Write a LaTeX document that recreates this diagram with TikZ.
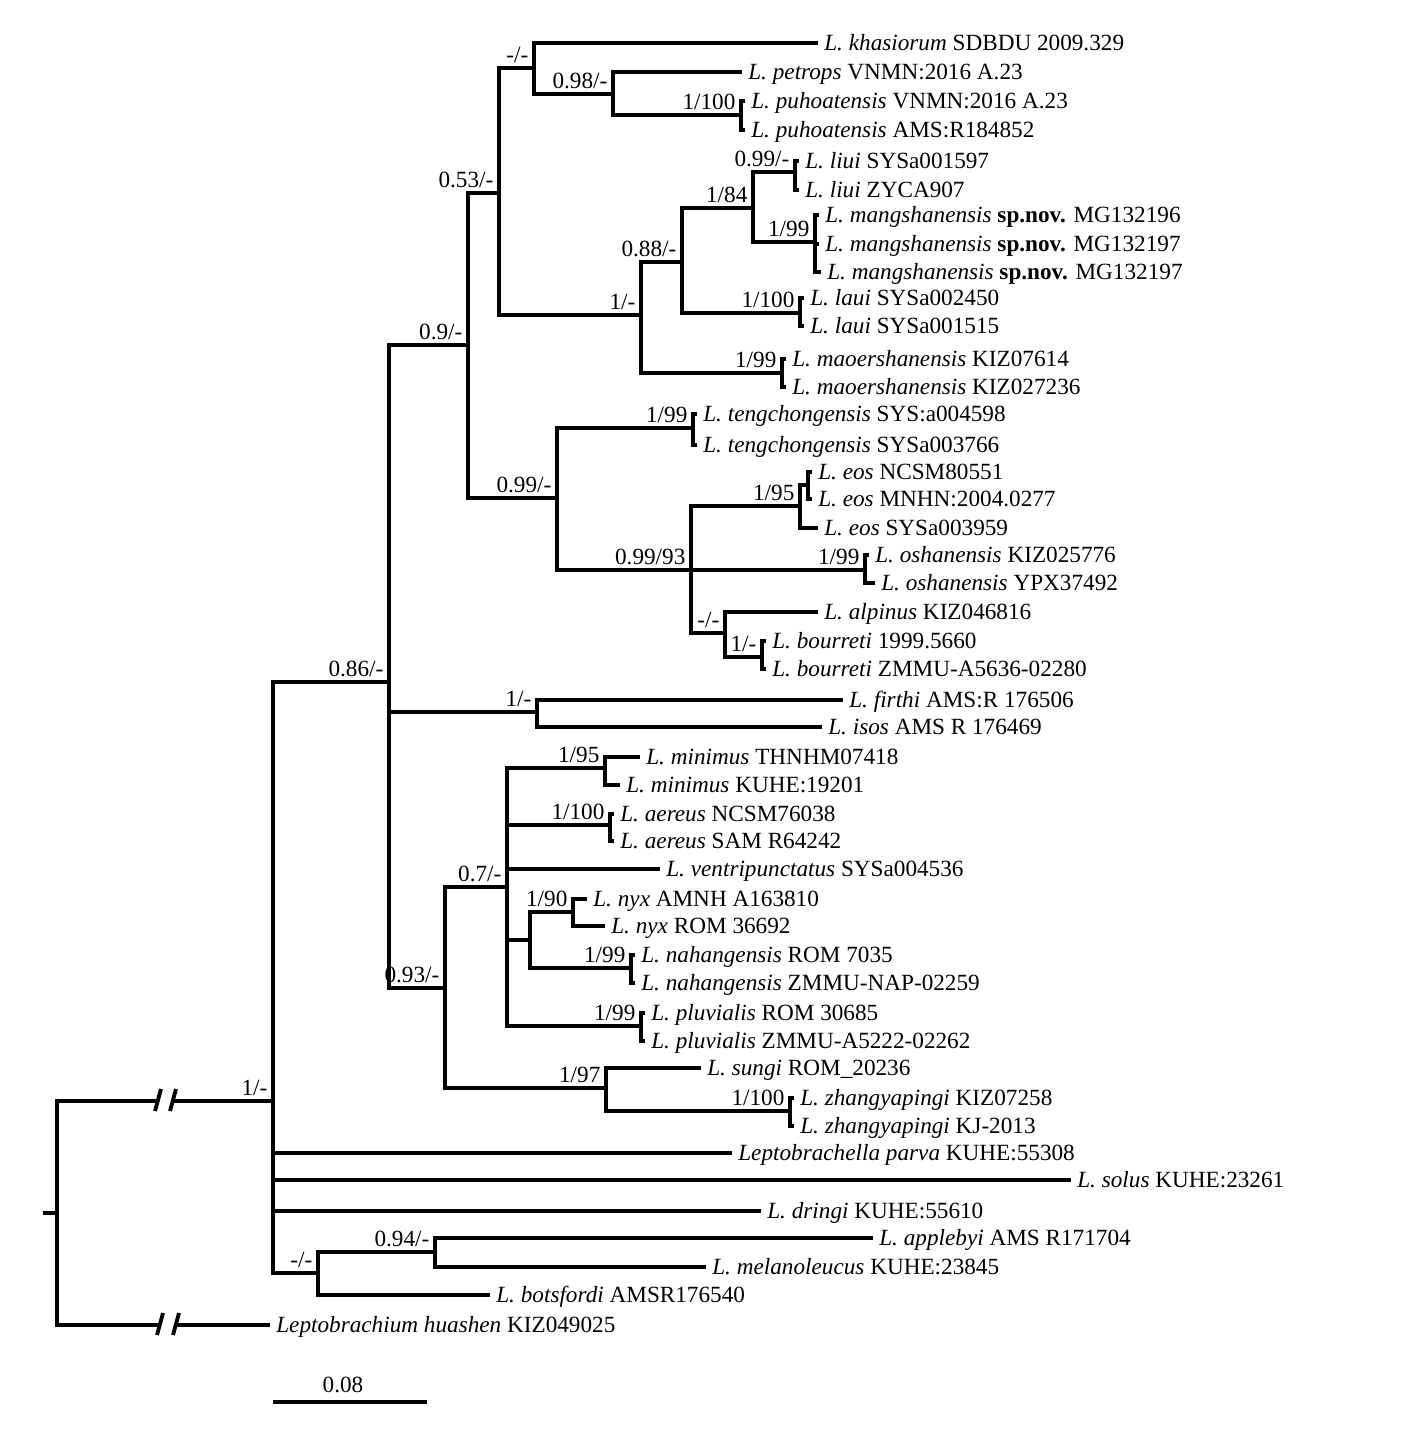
\documentclass[tikz,border=0pt]{standalone}
\usepackage{fontspec}
\setmainfont{Liberation Serif}

\begin{document}
\begin{tikzpicture}[x=0.01cm, y=-0.01cm,
    every node/.style={font=\fontsize{6.6}{7}\selectfont},
    leaf/.style={anchor=west, inner xsep=1.6pt, inner ysep=0pt,
                 text height=1.5mm, text depth=0pt},
    supp/.style={anchor=south east, inner xsep=1.4pt, inner ysep=1.3pt},
    branch/.style={line width=1.1pt},
  ]
  \useasboundingbox (0,0) rectangle (1417,1447);

  % internal nodes
  \coordinate (rt0) at (43,1213);
  \coordinate (rt)  at (57,1213);
  \coordinate (nA)  at (273,1101);
  \coordinate (n086) at (389,682);
  \coordinate (n09)  at (468,345);
  \coordinate (n053) at (499,193);
  \coordinate (nkh)  at (534,68);
  \coordinate (n098) at (613,94);
  \coordinate (npuh) at (741,115);
  \coordinate (n1b)  at (641,315);
  \coordinate (n088) at (682,262);
  \coordinate (n184) at (753,208);
  \coordinate (nliu) at (795,172);
  \coordinate (nman) at (815,242);
  \coordinate (nlau) at (800,313);
  \coordinate (nmao) at (782,373);
  \coordinate (n099) at (557,498);
  \coordinate (nten) at (693,428);
  \coordinate (n0993) at (691,570);
  \coordinate (n195) at (800,506);
  \coordinate (neos) at (808,485);
  \coordinate (nosh) at (865,570);
  \coordinate (nalp) at (725,633);
  \coordinate (nbou) at (762,657);
  \coordinate (nfir) at (537,712);
  \coordinate (n093) at (445,988);
  \coordinate (n07)  at (507,887);
  \coordinate (nmin) at (605,768);
  \coordinate (naer) at (610,825);
  \coordinate (nnn)  at (530,940);
  \coordinate (nnyx) at (573,912);
  \coordinate (nnah) at (631,968);
  \coordinate (nplu) at (641,1026);
  \coordinate (n197) at (606,1088);
  \coordinate (nzh)  at (790,1111);
  \coordinate (nB)   at (318,1273);
  \coordinate (n094) at (435,1252);

  % tips
  \node[leaf] (kha)  at (818,43)  {\textit{L. khasiorum} SDBDU 2009.329};
  \node[leaf] (pet)  at (742,72)  {\textit{L. petrops} VNMN:2016 A.23};
  \node[leaf] (puh1) at (745,101) {\textit{L. puhoatensis} VNMN:2016 A.23};
  \node[leaf] (puh2) at (745,130) {\textit{L. puhoatensis} AMS:R184852};
  \node[leaf] (liu1) at (799,161) {\textit{L. liui} SYSa001597};
  \node[leaf] (liu2) at (799,190) {\textit{L. liui} ZYCA907};
  \node[leaf] (man1) at (819,215) {\textit{L. mangshanensis} \textbf{sp.nov.} MG132196};
  \node[leaf] (man2) at (819,244) {\textit{L. mangshanensis} \textbf{sp.nov.} MG132197};
  \node[leaf] (man3) at (821,272) {\textit{L. mangshanensis} \textbf{sp.nov.} MG132197};
  \node[leaf] (lau1) at (804,298) {\textit{L. laui} SYSa002450};
  \node[leaf] (lau2) at (804,326) {\textit{L. laui} SYSa001515};
  \node[leaf] (mao1) at (786,359) {\textit{L. maoershanensis} KIZ07614};
  \node[leaf] (mao2) at (786,387) {\textit{L. maoershanensis} KIZ027236};
  \node[leaf] (ten1) at (697,414) {\textit{L. tengchongensis} SYS:a004598};
  \node[leaf] (ten2) at (697,445) {\textit{L. tengchongensis} SYSa003766};
  \node[leaf] (eos1) at (812,472) {\textit{L. eos} NCSM80551};
  \node[leaf] (eos2) at (812,499) {\textit{L. eos} MNHN:2004.0277};
  \node[leaf] (eos3) at (818,528) {\textit{L. eos} SYSa003959};
  \node[leaf] (osh1) at (869,555) {\textit{L. oshanensis} KIZ025776};
  \node[leaf] (osh2) at (875,583) {\textit{L. oshanensis} YPX37492};
  \node[leaf] (alp)  at (818,612) {\textit{L. alpinus} KIZ046816};
  \node[leaf] (bou1) at (766,641) {\textit{L. bourreti} 1999.5660};
  \node[leaf] (bou2) at (766,669) {\textit{L. bourreti} ZMMU-A5636-02280};
  \node[leaf] (fir)  at (843,700) {\textit{L. firthi} AMS:R 176506};
  \node[leaf] (iso)  at (822,727) {\textit{L. isos} AMS R 176469};
  \node[leaf] (min1) at (640,757) {\textit{L. minimus} THNHM07418};
  \node[leaf] (min2) at (620,785) {\textit{L. minimus} KUHE:19201};
  \node[leaf] (aer1) at (614,814) {\textit{L. aereus} NCSM76038};
  \node[leaf] (aer2) at (614,841) {\textit{L. aereus} SAM R64242};
  \node[leaf] (ven)  at (660,869) {\textit{L. ventripunctatus} SYSa004536};
  \node[leaf] (nyx1) at (587,899) {\textit{L. nyx} AMNH A163810};
  \node[leaf] (nyx2) at (605,926) {\textit{L. nyx} ROM 36692};
  \node[leaf] (nah1) at (635,955) {\textit{L. nahangensis} ROM 7035};
  \node[leaf] (nah2) at (635,983) {\textit{L. nahangensis} ZMMU-NAP-02259};
  \node[leaf] (plu1) at (645,1013) {\textit{L. pluvialis} ROM 30685};
  \node[leaf] (plu2) at (645,1041) {\textit{L. pluvialis} ZMMU-A5222-02262};
  \node[leaf] (sun)  at (701,1068) {\textit{L. sungi} ROM\_20236};
  \node[leaf] (zh1)  at (794,1098) {\textit{L. zhangyapingi} KIZ07258};
  \node[leaf] (zh2)  at (794,1126) {\textit{L. zhangyapingi} KJ-2013};
  \node[leaf] (parva) at (732,1153) {\textit{Leptobrachella parva} KUHE:55308};
  \node[leaf] (sol)  at (1071,1180) {\textit{L. solus} KUHE:23261};
  \node[leaf] (dri)  at (761,1211) {\textit{L. dringi} KUHE:55610};
  \node[leaf] (app)  at (873,1238) {\textit{L. applebyi} AMS R171704};
  \node[leaf] (mel)  at (706,1267) {\textit{L. melanoleucus} KUHE:23845};
  \node[leaf] (bot)  at (490,1295) {\textit{L. botsfordi} AMSR176540};
  \node[leaf] (hua)  at (270,1325) {\textit{Leptobrachium huashen} KIZ049025};

  % root and broken branches
  \coordinate (bk1) at (159,1101);
  \coordinate (bk2) at (173,1101);
  \coordinate (bk3) at (161,1325);
  \coordinate (bk4) at (176,1325);
  \draw[branch] (rt0) -- (rt);
  \draw[branch] (rt) |- (bk1) (bk2) -- (nA);
  \draw[branch] (rt) |- (bk3) (bk4) -- (hua.west);
  \draw[branch] (bk1) +(-4,10) -- +(2,-12);
  \draw[branch] (bk2) +(-3,10) -- +(3,-12);
  \draw[branch] (bk3) +(-4,10) -- +(2,-12);
  \draw[branch] (bk4) +(-3,10) -- +(3,-12);

  % branches
  \draw[branch] (nA) |- (n086) (nA) |- (parva.west) (nA) |- (sol.west)
                (nA) |- (dri.west) (nA) |- (nB);
  \draw[branch] (n086) |- (n09) (n086) |- (nfir) (n086) |- (n093);
  \draw[branch] (n09) |- (n053) (n09) |- (n099);
  \draw[branch] (n053) |- (nkh) (n053) |- (n1b);
  \draw[branch] (nkh) |- (kha.west) (nkh) |- (n098);
  \draw[branch] (n098) |- (pet.west) (n098) |- (npuh);
  \draw[branch] (npuh) |- (puh1.west) (npuh) |- (puh2.west);
  \draw[branch] (n1b) |- (n088) (n1b) |- (nmao);
  \draw[branch] (n088) |- (n184) (n088) |- (nlau);
  \draw[branch] (n184) |- (nliu) (n184) |- (nman);
  \draw[branch] (nliu) |- (liu1.west) (nliu) |- (liu2.west);
  \draw[branch] (nman) |- (man1.west) (nman) |- (man2.west) (nman) |- (man3.west);
  \draw[branch] (nlau) |- (lau1.west) (nlau) |- (lau2.west);
  \draw[branch] (nmao) |- (mao1.west) (nmao) |- (mao2.west);
  \draw[branch] (n099) |- (nten) (n099) |- (n0993);
  \draw[branch] (nten) |- (ten1.west) (nten) |- (ten2.west);
  \draw[branch] (n0993) |- (n195) (n0993) |- (nosh) (n0993) |- (nalp);
  \draw[branch] (n195) |- (neos) (n195) |- (eos3.west);
  \draw[branch] (neos) |- (eos1.west) (neos) |- (eos2.west);
  \draw[branch] (nosh) |- (osh1.west) (nosh) |- (osh2.west);
  \draw[branch] (nalp) |- (alp.west) (nalp) |- (nbou);
  \draw[branch] (nbou) |- (bou1.west) (nbou) |- (bou2.west);
  \draw[branch] (nfir) |- (fir.west) (nfir) |- (iso.west);
  \draw[branch] (n093) |- (n07) (n093) |- (n197);
  \draw[branch] (n07) |- (nmin) (n07) |- (naer) (n07) |- (ven.west)
                (n07) |- (nnn) (n07) |- (nplu);
  \draw[branch] (nmin) |- (min1.west) (nmin) |- (min2.west);
  \draw[branch] (naer) |- (aer1.west) (naer) |- (aer2.west);
  \draw[branch] (nnn) |- (nnyx) (nnn) |- (nnah);
  \draw[branch] (nnyx) |- (nyx1.west) (nnyx) |- (nyx2.west);
  \draw[branch] (nnah) |- (nah1.west) (nnah) |- (nah2.west);
  \draw[branch] (nplu) |- (plu1.west) (nplu) |- (plu2.west);
  \draw[branch] (n197) |- (sun.west) (n197) |- (nzh);
  \draw[branch] (nzh) |- (zh1.west) (nzh) |- (zh2.west);
  \draw[branch] (nB) |- (n094) (nB) |- (bot.west);
  \draw[branch] (n094) |- (app.west) (n094) |- (mel.west);

  % support values
  \node[supp] (sA)    at (nA)    {1/-};
  \node[supp] (s086)  at (n086)  {0.86/-};
  \node[supp] (s09)   at (n09)   {0.9/-};
  \node[supp] (s053)  at (n053)  {0.53/-};
  \node[supp] (skh)   at (nkh)   {-/-};
  \node[supp] (s098)  at (n098)  {0.98/-};
  \node[supp] (spuh)  at (npuh)  {1/100};
  \node[supp] (s1b)   at (n1b)   {1/-};
  \node[supp] (s088)  at (n088)  {0.88/-};
  \node[supp] (s184)  at (n184)  {1/84};
  \node[supp] (sliu)  at (nliu)  {0.99/-};
  \node[supp] (sman)  at (nman)  {1/99};
  \node[supp] (slau)  at (nlau)  {1/100};
  \node[supp] (smao)  at (nmao)  {1/99};
  \node[supp] (s099)  at (n099)  {0.99/-};
  \node[supp] (sten)  at (nten)  {1/99};
  \node[supp] (s0993) at (n0993) {0.99/93};
  \node[supp] (s195)  at (n195)  {1/95};
  \node[supp] (sosh)  at (nosh)  {1/99};
  \node[supp] (salp)  at (nalp)  {-/-};
  \node[supp] (sbou)  at (nbou)  {1/-};
  \node[supp] (sfir)  at (nfir)  {1/-};
  \node[supp] (s093)  at (n093)  {0.93/-};
  \node[supp] (s07)   at (n07)   {0.7/-};
  \node[supp] (smin)  at (nmin)  {1/95};
  \node[supp] (saer)  at (naer)  {1/100};
  \node[supp] (snyx)  at (nnyx)  {1/90};
  \node[supp] (snah)  at (nnah)  {1/99};
  \node[supp] (splu)  at (nplu)  {1/99};
  \node[supp] (s197)  at (n197)  {1/97};
  \node[supp] (szh)   at (nzh)   {1/100};
  \node[supp] (sB)    at (nB)    {-/-};
  \node[supp] (s094)  at (n094)  {0.94/-};

  % scale bar
  \coordinate (sb1) at (273,1402);
  \coordinate (sb2) at (427,1402);
  \draw[branch] (sb1) -- (sb2);
  \node (sbl) at (343,1385) {0.08};
\end{tikzpicture}
\end{document}
